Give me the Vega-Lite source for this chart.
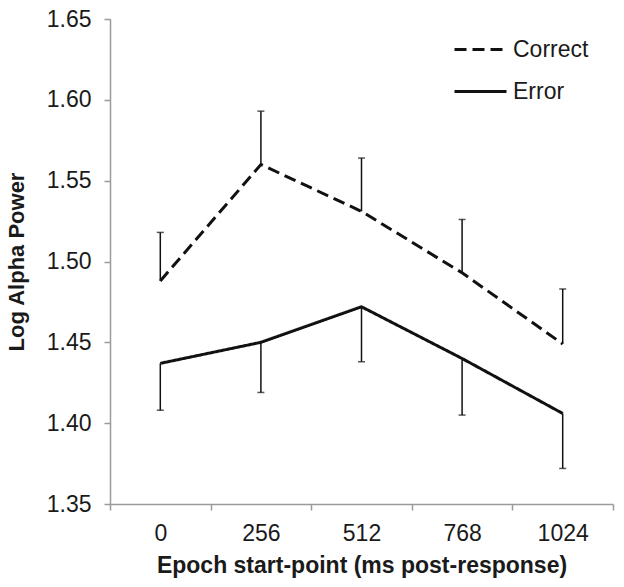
{
  "$schema": "https://vega.github.io/schema/vega-lite/v6.json",
  "autosize": "none",
  "width": 503,
  "height": 485,
  "padding": {"left": 110, "top": 19, "right": 11, "bottom": 83},
  "background": "white",
  "config": {
    "view": {"stroke": null},
    "font": "Liberation Sans",
    "axis": {"grid": false, "domainColor": "#9a9a9a", "tickColor": "#9a9a9a", "domainWidth": 1.5, "tickWidth": 1.5, "labelColor": "#1a1a1a", "titleColor": "#1a1a1a", "labelFont": "Liberation Sans", "titleFont": "Liberation Sans"}
  },
  "data": {
    "values": [
      {"epoch": 0, "condition": "Correct", "mean": 1.488, "bar": 1.518},
      {"epoch": 256, "condition": "Correct", "mean": 1.560, "bar": 1.593},
      {"epoch": 512, "condition": "Correct", "mean": 1.531, "bar": 1.564},
      {"epoch": 768, "condition": "Correct", "mean": 1.493, "bar": 1.526},
      {"epoch": 1024, "condition": "Correct", "mean": 1.449, "bar": 1.483},
      {"epoch": 0, "condition": "Error", "mean": 1.437, "bar": 1.408},
      {"epoch": 256, "condition": "Error", "mean": 1.450, "bar": 1.419},
      {"epoch": 512, "condition": "Error", "mean": 1.472, "bar": 1.438},
      {"epoch": 768, "condition": "Error", "mean": 1.440, "bar": 1.405},
      {"epoch": 1024, "condition": "Error", "mean": 1.406, "bar": 1.372}
    ]
  },
  "encoding": {
    "x": {
      "field": "epoch", "type": "quantitative",
      "scale": {"domain": [-128, 1152], "nice": false, "zero": false},
      "axis": {
        "title": "Epoch start-point (ms post-response)",
        "values": [-128, 0, 128, 256, 384, 512, 640, 768, 896, 1024, 1152],
        "format": "d",
        "labelExpr": "datum.value % 256 === 0 ? datum.label : ''",
        "tickOpacity": {"condition": {"test": "datum.value % 256 === 0", "value": 0}, "value": 1},
        "tickSize": 6,
        "labelFontSize": 23,
        "labelPadding": 12,
        "titleFontSize": 23,
        "titleFontWeight": "bold",
        "titlePadding": 9
      }
    }
  },
  "layer": [
    {
      "mark": {"type": "rule", "color": "#111", "strokeWidth": 1.5},
      "encoding": {
        "y": {"field": "mean", "type": "quantitative"},
        "y2": {"field": "bar"}
      }
    },
    {
      "mark": {"type": "tick", "orient": "horizontal", "color": "#111", "size": 7, "thickness": 1.5},
      "encoding": {
        "y": {"field": "bar", "type": "quantitative"}
      }
    },
    {
      "mark": {"type": "line", "color": "#111", "strokeWidth": 3},
      "encoding": {
        "y": {
          "field": "mean", "type": "quantitative",
          "scale": {"domain": [1.35, 1.65], "nice": false, "zero": false},
          "axis": {
            "title": "Log Alpha Power",
            "values": [1.35, 1.4, 1.45, 1.5, 1.55, 1.6, 1.65],
            "format": ".2f",
            "tickSize": 6,
            "labelFontSize": 23,
            "labelPadding": 13,
            "titleFontSize": 22,
            "titleFontWeight": "bold",
            "titlePadding": 18
          }
        },
        "strokeDash": {
          "field": "condition", "type": "nominal",
          "scale": {"domain": ["Correct", "Error"], "range": [[12, 6], [1, 0]]},
          "legend": {
            "title": null,
            "orient": "none",
            "legendX": 343,
            "legendY": 3,
            "symbolType": "stroke",
            "symbolSize": 2704,
            "symbolStrokeWidth": 3,
            "symbolStrokeColor": "#111",
            "labelFontSize": 23,
            "labelColor": "#1a1a1a",
            "labelOffset": 5,
            "rowPadding": 2
          }
        }
      }
    }
  ]
}
